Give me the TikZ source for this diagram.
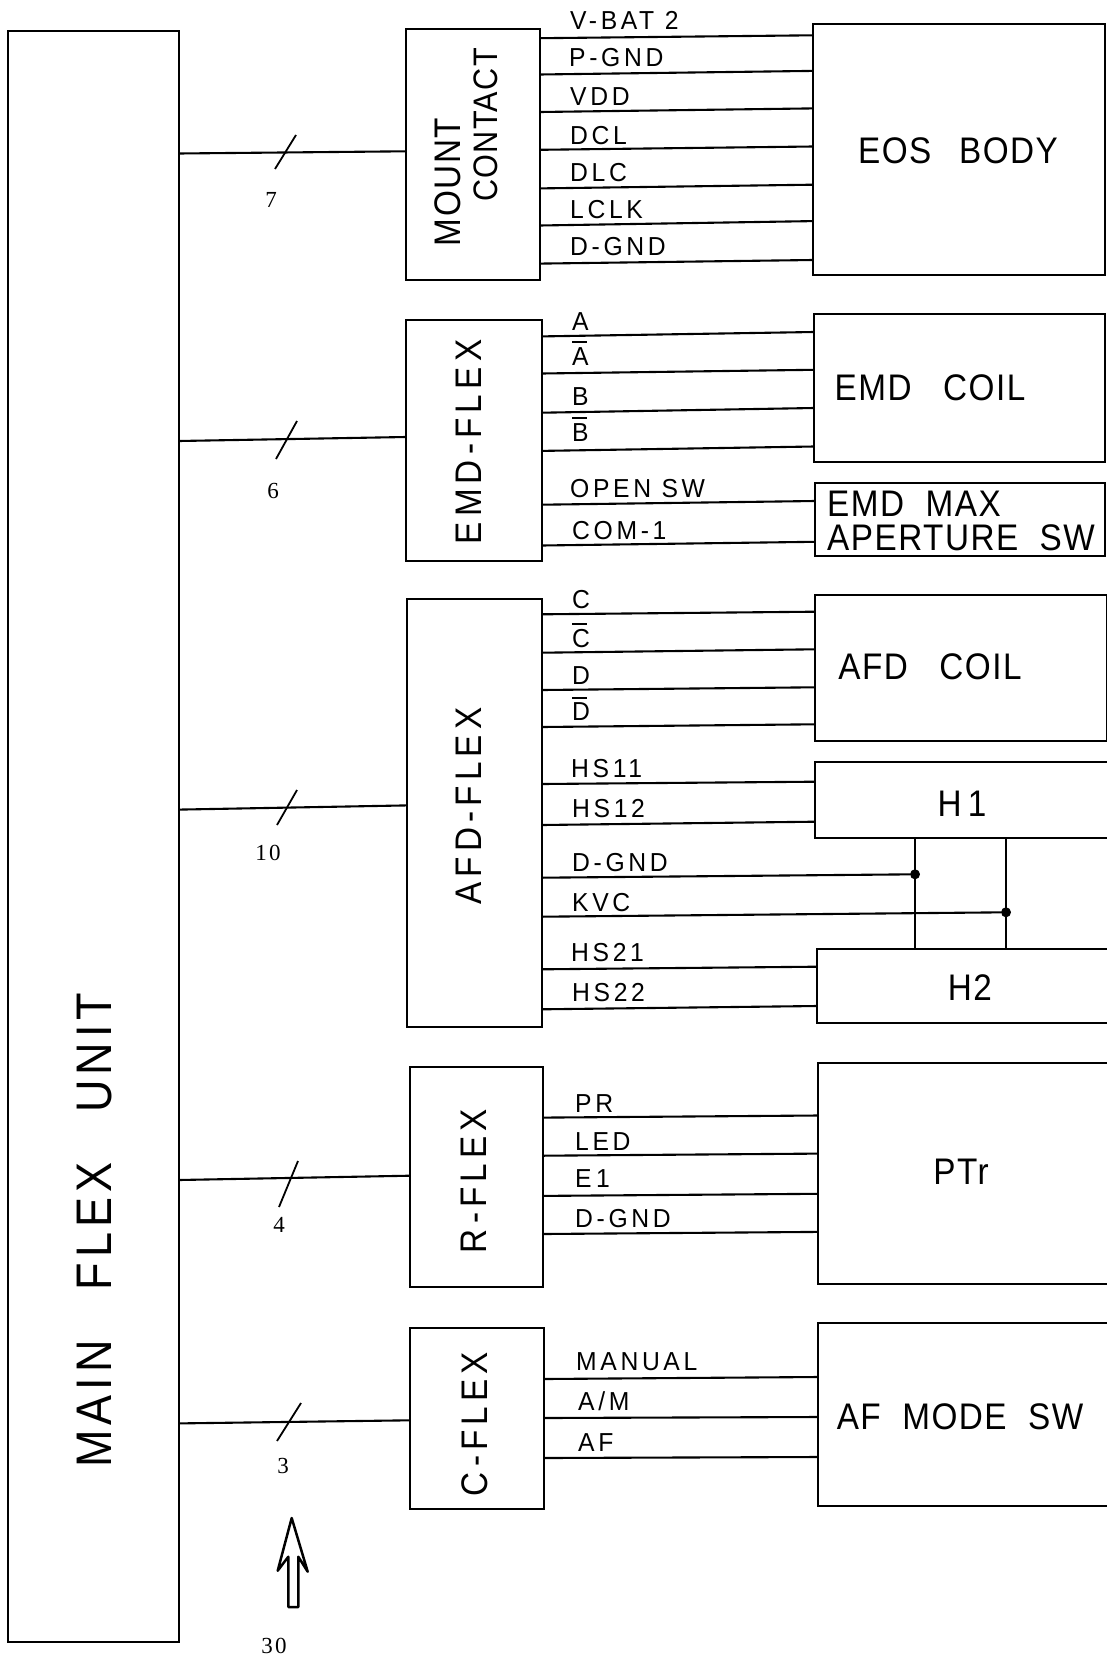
\documentclass[tikz,border=0pt]{standalone}
\usepackage{fontspec}
\newfontfamily\blockfont[FakeStretch=0.9,LetterSpace=4]{Liberation Sans}
\newfontfamily\flexfont[FakeStretch=0.9,LetterSpace=14]{Liberation Sans}
\newfontfamily\mainfont[FakeStretch=0.9,LetterSpace=10]{Liberation Sans}
\newfontfamily\wirefont[FakeStretch=0.95,LetterSpace=14]{Liberation Sans}
\newfontfamily\numfont[LetterSpace=10]{Liberation Serif}
\newcommand{\barlabel}[1]{\rlap{\rule[22pt]{15pt}{2pt}}#1}
\tikzset{
  blockbox/.style={rectangle, draw=black, line width=2.2pt, inner sep=0pt, outer sep=0pt},
  wireline/.style={line width=2.1pt, color=black},
  blocktext/.style={inner sep=0pt, font=\blockfont\fontsize{37}{37}\selectfont},
  flextext/.style={inner sep=0pt, rotate=90, font=\flexfont\fontsize{37}{37}\selectfont},
  wiretext/.style={inner sep=0pt, anchor=base west, font=\wirefont\fontsize{26}{26}\selectfont},
  numtext/.style={inner sep=0pt, font=\numfont\fontsize{23}{23}\selectfont},
  joindot/.style={circle, fill=black, inner sep=0pt, minimum size=10pt}
}
\begin{document}
\begin{tikzpicture}
\useasboundingbox (0pt, 0pt) rectangle (1107pt, -1659pt);
% boxes
\node (main) [blockbox, minimum width=171pt, minimum height=1611pt] at (93.5pt, -836.5pt) {};
\node (mount) [blockbox, minimum width=134pt, minimum height=251pt] at (473pt, -154.5pt) {};
\node (eos) [blockbox, minimum width=292pt, minimum height=251pt] at (959pt, -149.5pt) {};
\node (emdflex) [blockbox, minimum width=136pt, minimum height=241pt] at (474pt, -440.5pt) {};
\node (emdcoil) [blockbox, minimum width=291pt, minimum height=148pt] at (959.5pt, -388pt) {};
\node (emdmax) [blockbox, minimum width=290pt, minimum height=73pt] at (960pt, -519.5pt) {};
\node (afdflex) [blockbox, minimum width=135pt, minimum height=428pt] at (474.5pt, -813pt) {};
\node (afdcoil) [blockbox, minimum width=292pt, minimum height=146pt] at (961pt, -668pt) {};
\node (h1) [blockbox, minimum width=297pt, minimum height=76pt] at (963.5pt, -800pt) {};
\node (h2) [blockbox, minimum width=295pt, minimum height=74pt] at (964.5pt, -986pt) {};
\node (rflex) [blockbox, minimum width=133pt, minimum height=220pt] at (476.5pt, -1177pt) {};
\node (ptr) [blockbox, minimum width=294pt, minimum height=221pt] at (965pt, -1173.5pt) {};
\node (cflex) [blockbox, minimum width=134pt, minimum height=181pt] at (477pt, -1418.5pt) {};
\node (afmode) [blockbox, minimum width=294pt, minimum height=183pt] at (965pt, -1414.5pt) {};
% box texts
\node (mainlabel) [flextext, font=\mainfont\fontsize{50}{50}\selectfont] at (95pt, -1230pt) {MAIN\quad FLEX\quad UNIT};
\node (mountlabel) [blocktext, rotate=90] at (448pt, -182pt) {MOUNT};
\node (contactlabel) [blocktext, rotate=90, font=\blockfont\fontsize{34}{34}\selectfont] at (486pt, -125pt) {CONTACT};
\node (eoslabel) [blocktext] at (958pt, -151pt) {EOS\hspace{.75em}BODY};
\node (emdflexlabel) [flextext] at (469pt, -442pt) {EMD-FLEX};
\node (emdcoillabel) [blocktext] at (930pt, -388pt) {EMD\hspace{.85em}COIL};
\node (emdmaxlabel) [blocktext, anchor=west, align=left, font=\blockfont\fontsize{37}{34}\selectfont] at (827pt, -521pt) {EMD\ \ MAX\\APERTURE\ \ SW};
\node (afdflexlabel) [flextext] at (469pt, -806pt) {AFD-FLEX};
\node (afdcoillabel) [blocktext] at (930pt, -667pt) {AFD\hspace{.85em}COIL};
\node (h1label) [blocktext] at (962pt, -804pt) {H\,1};
\node (h2label) [blocktext] at (970pt, -988pt) {H2};
\node (rflexlabel) [flextext] at (474pt, -1181pt) {R-FLEX};
\node (ptrlabel) [blocktext] at (961pt, -1171.5pt) {PTr};
\node (cflexlabel) [flextext] at (475pt, -1424pt) {C-FLEX};
\node (afmodelabel) [blocktext] at (960pt, -1417pt) {AF\ \ MODE\ \ SW};
% wire names
\node (vbat) [wiretext] at (570pt, -30pt) {V-BAT\ 2};
\node (pgnd) [wiretext] at (569pt, -66.5pt) {P-GND};
\node (vdd) [wiretext] at (570pt, -105.5pt) {VDD};
\node (dcl) [wiretext] at (570pt, -144pt) {DCL};
\node (dlc) [wiretext] at (570pt, -181pt) {DLC};
\node (lclk) [wiretext] at (570pt, -218pt) {LCLK};
\node (dgnda) [wiretext] at (570pt, -255pt) {D-GND};
\node (wirea) [wiretext] at (572pt, -330pt) {A};
\node (wireabar) [wiretext] at (572pt, -365pt) {\barlabel{A}};
\node (wireb) [wiretext] at (572pt, -405.5pt) {B};
\node (wirebbar) [wiretext] at (572pt, -441pt) {\barlabel{B}};
\node (opensw) [wiretext] at (570pt, -497.5pt) {OPEN SW};
\node (comone) [wiretext] at (572pt, -539.5pt) {COM-1};
\node (wirec) [wiretext] at (572pt, -608.5pt) {C};
\node (wirecbar) [wiretext] at (572pt, -647pt) {\barlabel{C}};
\node (wired) [wiretext] at (572pt, -684.5pt) {D};
\node (wiredbar) [wiretext] at (572pt, -720.5pt) {\barlabel{D}};
\node (hsoo) [wiretext] at (571pt, -777.5pt) {HS11};
\node (hsot) [wiretext] at (572pt, -817pt) {HS12};
\node (dgndb) [wiretext] at (572pt, -871pt) {D-GND};
\node (kvc) [wiretext] at (572pt, -911.5pt) {KVC};
\node (hsto) [wiretext] at (571pt, -961pt) {HS21};
\node (hstt) [wiretext] at (572pt, -1001.5pt) {HS22};
\node (pr) [wiretext] at (575pt, -1112.5pt) {PR};
\node (led) [wiretext] at (575pt, -1150.5pt) {LED};
\node (eone) [wiretext] at (575pt, -1187.5pt) {E\,1};
\node (dgndc) [wiretext] at (575pt, -1227.5pt) {D-GND};
\node (manual) [wiretext] at (576pt, -1370.5pt) {MANUAL};
\node (am) [wiretext] at (578pt, -1410.5pt) {A/M};
\node (af) [wiretext] at (578pt, -1451pt) {AF};
% bundle counts
\node (numseven) [numtext] at (271pt, -200pt) {7};
\node (numsix) [numtext] at (273pt, -491pt) {6};
\node (numten) [numtext] at (268pt, -853pt) {10};
\node (numfour) [numtext] at (279pt, -1225pt) {4};
\node (numthree) [numtext] at (283pt, -1466pt) {3};
\node (numthirty) [numtext] at (274pt, -1646pt) {30};
% bundles from the main unit
\draw [wireline] (main.east |- 0,-153.5pt) -- (mount.west |- 0,-151.3pt);
\draw [wireline] (main.east |- 0,-441pt) -- (emdflex.west |- 0,-437pt);
\draw [wireline] (main.east |- 0,-809.6pt) -- (afdflex.west |- 0,-805.4pt);
\draw [wireline] (main.east |- 0,-1180pt) -- (rflex.west |- 0,-1175.7pt);
\draw [wireline] (main.east |- 0,-1423.4pt) -- (cflex.west |- 0,-1420.3pt);
\foreach \xa/\ya/\xb/\yb in {275/169/296/135, 276/459/297/421, 277/825/297/790, 279/1207/298/1161, 277/1441/301/1403}
  \draw [line width=1.8pt] (\xa pt, -\ya pt) -- (\xb pt, -\yb pt);
% wires
\foreach \yl/\yr in {38.2/35.3, 74.5/70.9, 112/108.4, 149.8/146.5, 188.4/184.7, 225.5/221.1, 263.6/260}
  \draw [wireline] (mount.east |- 0,-\yl pt) -- (eos.west |- 0,-\yr pt);
\foreach \yl/\yr in {336.4/332, 373.5/369.8, 412.7/408, 450.9/446.5}
  \draw [wireline] (emdflex.east |- 0,-\yl pt) -- (emdcoil.west |- 0,-\yr pt);
\foreach \yl/\yr in {504.7/501, 545.5/541.8}
  \draw [wireline] (emdflex.east |- 0,-\yl pt) -- (emdmax.west |- 0,-\yr pt);
\foreach \yl/\yr in {614.3/611.7, 652.7/649.3, 690/687.3, 727/724.3}
  \draw [wireline] (afdflex.east |- 0,-\yl pt) -- (afdcoil.west |- 0,-\yr pt);
\foreach \yl/\yr in {784/781.7, 825/821.7}
  \draw [wireline] (afdflex.east |- 0,-\yl pt) -- (h1.west |- 0,-\yr pt);
\foreach \yl/\yr in {969.3/966.7, 1009.3/1006}
  \draw [wireline] (afdflex.east |- 0,-\yl pt) -- (h2.west |- 0,-\yr pt);
\foreach \yl/\yr in {1117.6/1115.5, 1155.7/1153.6, 1195.9/1193.8, 1234/1231.9}
  \draw [wireline] (rflex.east |- 0,-\yl pt) -- (ptr.west |- 0,-\yr pt);
\foreach \yl/\yr in {1379/1377, 1418/1417, 1458/1457}
  \draw [wireline] (cflex.east |- 0,-\yl pt) -- (afmode.west |- 0,-\yr pt);
% hall sensor commons
\node (dotgnd) [joindot] at (915pt, -874.3pt) {};
\node (dotkvc) [joindot] at (1006pt, -912.3pt) {};
\draw [wireline] (afdflex.east |- 0,-877.7pt) -- (dotgnd);
\draw [wireline] (afdflex.east |- 0,-916.7pt) -- (dotkvc);
\draw [wireline] (dotgnd |- h1.south) -- (dotgnd |- h2.north);
\draw [wireline] (dotkvc |- h1.south) -- (dotkvc |- h2.north);
% view arrow
\draw [line width=2.5pt, line join=round] (291.7pt, -1518pt) -- (307.7pt, -1571.7pt) -- (298.3pt, -1556.7pt) -- (298.3pt, -1607pt) -- (288.3pt, -1607pt) -- (288.3pt, -1556.7pt) -- (277.7pt, -1570.7pt) -- cycle;
\end{tikzpicture}
\end{document}
